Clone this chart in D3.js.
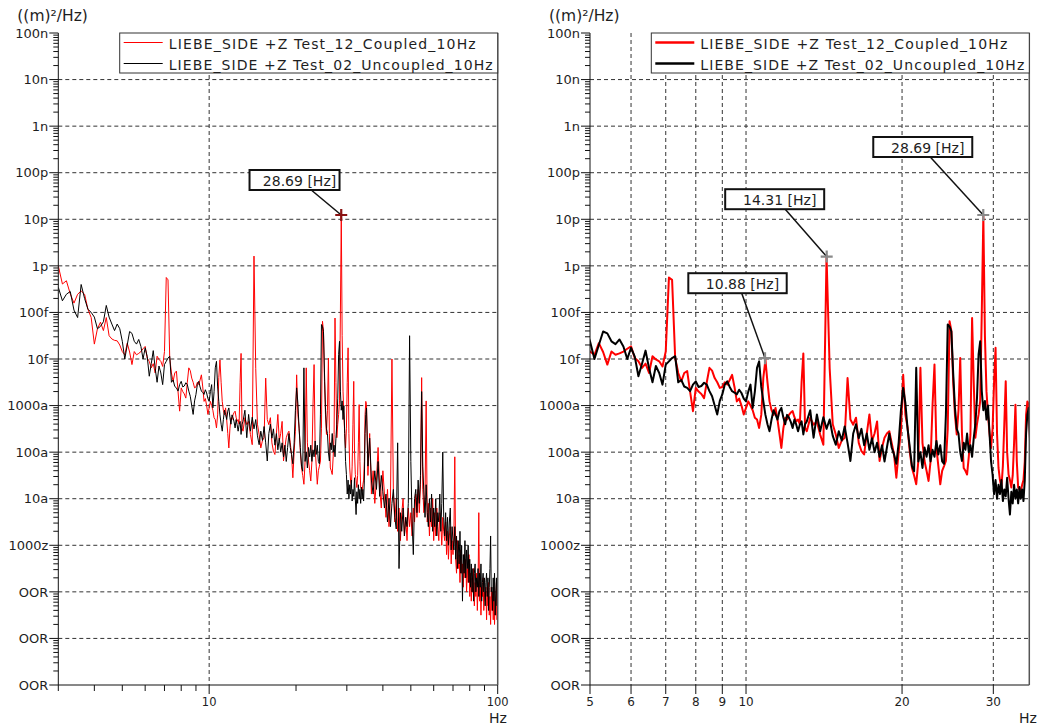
<!DOCTYPE html>
<html>
<head>
<meta charset="utf-8">
<script src="https://cdn.jsdelivr.net/npm/d3@7"></script>
<style>
  body { margin: 0; background: #fff; }
  svg { display: block; font-family: "DejaVu Sans", Verdana, sans-serif; }
</style>
</head>
<body>
<div id="chart"></div>
<script>
// spectrum bins: start frequency and spacing (Hz) of each stretch
const binStart = [3.0, 5.0, 13.1, 35.5];
const binStep = [0.1, 0.1, 0.2, 0.5];

// log10 of PSD in (m)^2/Hz
const coupled3to5 = [
  -12.0, -12.39, -12.32, -12.6, -12.8, -12.61, -12.54, -12.61, -12.93, -13.11,
  -13.68, -13.35, -13.21, -13.39, -13.11, -13.5, -13.57, -13.6, -13.61, -13.7
];
const uncoupled3to5 = [
  -12.46, -12.75, -12.61, -12.55, -12.95, -13.11, -12.4, -12.7, -12.93, -13.0,
  -13.1, -13.35, -13.3, -13.2, -12.85, -13.1, -13.25, -13.39, -13.25, -13.35
];

const coupled5to13 = [
  -13.84, -13.91, -13.66, -13.85, -14.12, -13.84, -13.91, -13.88, -13.84, -13.78,
  -13.73, -13.98, -14.05, -14.19, -14.1, -14.3, -13.94, -14.01, -14.05, -14.16,
  -13.84, -12.25, -12.3, -13.98, -14.3, -14.48, -14.3, -14.26, -14.7, -15.12,
  -14.62, -14.7, -14.75, -14.84, -14.5, -14.19, -14.25, -14.41, -14.5, -14.62,
  -14.6, -14.5, -14.55, -14.45, -14.34, -14.6, -14.91, -14.85, -15.0, -15.19,
  -15.05, -14.91, -15.0, -15.1, -15.26, -15.3, -15.48, -15.2, -14.4, -14.02,
  -14.5, -14.91, -15.1, -15.2, -15.05, -15.3, -15.6, -15.91, -15.5, -15.26,
  -15.3, -15.2, -15.15, -15.12, -15.25, -15.34, -15.3, -15.4, -14.5, -13.88,
  -15.48
];
const uncoupled5to13 = [
  -13.62, -14.0, -13.7, -13.41, -13.45, -13.62, -13.68, -13.58, -13.73, -14.0,
  -13.76, -13.95, -14.37, -14.1, -13.82, -14.2, -14.5, -14.15, -14.3, -14.55,
  -14.12, -14.05, -13.98, -13.94, -14.5, -14.45, -14.59, -14.62, -14.69, -14.55,
  -14.48, -14.6, -14.58, -14.51, -14.55, -14.69, -14.8, -15.0, -15.19, -14.9,
  -14.76, -14.55, -14.48, -14.6, -14.69, -14.72, -14.76, -14.66, -14.73, -14.85,
  -14.91, -14.7, -14.55, -15.05, -14.7, -14.19, -14.05, -14.6, -14.91, -15.2,
  -15.4, -15.55, -15.3, -15.1, -15.19, -15.3, -15.12, -15.05, -15.25, -15.4,
  -15.2, -15.26, -15.35, -15.48, -15.3, -15.41, -15.55, -15.41, -15.34, -15.62,
  -15.4
];

const coupled13to35 = [
  -15.55, -15.26, -15.41, -15.34, -15.62,
  -15.84, -11.79, -14.2, -15.4, -15.62,
  -15.91, -15.75, -15.69, -14.41, -15.3,
  -15.41, -15.26, -15.8, -15.98, -16.05,
  -15.6, -15.19, -15.76, -15.6, -15.34,
  -16.19, -15.9, -15.69, -15.6, -15.55,
  -15.8, -16.05, -16.55, -16.0, -15.55,
  -14.34, -15.2, -15.48, -16.0, -16.34,
  -16.5, -16.69, -16.2, -14.19, -15.8,
  -16.19, -16.4, -16.62, -16.2, -15.0,
  -14.12, -15.91, -16.3, -16.69, -16.4,
  -16.3, -16.19, -15.5, -13.19, -13.4,
  -14.48, -15.2, -15.62, -15.1, -13.98,
  -15.6, -16.34, -16.4, -16.48, -16.1,
  -15.62, -13.12, -14.5, -15.69, -15.4,
  -15.19, -14.9, -13.0, -10.92, -13.5,
  -14.69, -15.2, -15.6, -15.91, -15.5,
  -14.5, -13.76, -15.6, -16.34, -16.6,
  -16.76, -16.3, -15.4, -14.48, -16.0,
  -16.48, -16.6, -16.76, -16.5, -15.8,
  -14.98, -16.2, -16.76, -16.8, -16.84,
  -16.7, -16.6, -16.2, -15.2, -14.91,
  -14.98
];
const uncoupled13to35 = [
  -15.34, -15.1, -15.69, -15.19, -15.55,
  -15.25, -15.5, -15.3, -15.65, -15.84,
  -15.55, -15.75, -15.45, -15.8, -16.19,
  -15.6, -15.4, -15.7, -15.5, -15.85,
  -15.6, -15.95, -15.7, -16.0, -15.8,
  -16.1, -15.85, -16.2, -15.9, -15.6,
  -15.9, -16.05, -16.25, -15.8, -15.1,
  -14.62, -14.95, -15.5, -15.9, -16.3,
  -16.41, -14.19, -16.2, -16.0, -16.34,
  -15.9, -16.1, -15.85, -16.2, -15.95,
  -16.1, -15.76, -16.05, -15.85, -16.2,
  -16.25, -15.2, -13.26, -13.3, -13.41,
  -14.3, -15.05, -15.5, -15.6, -16.0,
  -16.19, -15.8, -15.95, -15.6, -16.0,
  -15.85, -16.1, -15.7, -15.4, -14.84,
  -13.9, -13.62, -14.69, -15.1, -14.9,
  -15.3, -15.0, -15.6, -16.2, -16.48,
  -16.9, -16.6, -17.0, -16.7, -16.9,
  -16.6, -17.05, -16.8, -16.95, -16.55,
  -17.0, -17.34, -16.85, -17.1, -16.7,
  -17.0, -16.8, -17.1, -16.75, -17.0,
  -16.8, -17.05, -16.6, -15.6, -15.19,
  -15.05
];

const coupled35to100 = [
  -16.5, -15.6, -16.9, -16.4, -17.1, -16.6, -15.9, -16.8, -17.2, -16.4,
  -16.9, -17.4, -16.8, -17.6, -17.0, -14.0, -16.9, -17.5, -17.0, -17.7,
  -17.2, -17.9, -17.3, -17.0, -17.8, -17.4, -17.9, -17.2, -17.6, -17.3,
  -17.8, -17.2, -17.5, -16.9, -17.4, -16.8, -17.3, -16.7, -14.4, -16.8,
  -17.3, -16.9, -14.9, -17.5, -17.1, -17.8, -17.2, -17.6, -17.0, -17.9,
  -17.3, -17.8, -17.2, -17.6, -17.9, -17.3, -17.5, -18.0, -17.4, -17.7,
  -17.9, -17.5, -18.2, -17.7, -18.3, -17.8, -17.6, -18.4, -17.9, -18.2,
  -17.8, -16.1, -18.3, -18.6, -17.9, -18.5, -18.2, -18.8, -18.1, -18.6,
  -18.4, -18.9, -18.2, -18.7, -18.3, -19.0, -18.5, -18.8, -18.2, -19.1,
  -18.6, -19.2, -18.7, -19.0, -18.5, -19.3, -18.8, -19.1, -18.6, -19.4,
  -18.9, -17.3, -19.2, -18.8, -19.5, -18.9, -19.1, -18.7, -19.4, -19.0,
  -19.2, -18.9, -19.6, -19.0, -19.3, -18.8, -19.5, -19.1, -19.7, -18.9,
  -19.4, -19.0, -19.6, -18.9, -19.7, -19.2, -19.5, -18.8, -19.6, -18.4
];
const uncoupled35to100 = [
  -16.3, -15.7, -16.6, -16.9, -16.4, -16.8, -16.2, -16.95, -16.5, -16.85,
  -17.2, -16.9, -17.5, -17.0, -17.6, -17.1, -16.8, -17.4, -17.65, -15.8,
  -18.5, -17.3, -17.7, -17.2, -17.8, -17.4, -17.6, -17.1, -13.5, -16.2,
  -17.5, -18.2, -17.0, -16.8, -17.3, -16.6, -17.1, -16.5, -14.7, -16.3,
  -16.9, -17.4, -16.7, -17.3, -17.6, -17.0, -17.5, -16.9, -17.7, -17.2,
  -17.6, -17.0, -17.8, -17.3, -17.5, -16.9, -17.7, -17.1, -16.0, -17.4,
  -17.8, -17.3, -17.9, -17.4, -18.0, -17.5, -17.2, -18.1, -17.6, -17.9,
  -18.1, -17.6, -18.3, -17.8, -18.5, -17.9, -18.4, -17.7, -18.6, -18.0,
  -19.2, -18.2, -18.6, -17.9, -18.7, -18.1, -18.5, -18.0, -18.8, -18.3,
  -18.9, -18.4, -19.0, -18.5, -19.2, -18.6, -18.4, -19.0, -18.7, -18.9,
  -18.5, -19.1, -18.6, -18.9, -18.4, -19.2, -18.8, -18.6, -19.0, -18.7,
  -19.3, -18.8, -18.6, -19.1, -18.7, -19.4, -18.9, -18.5, -17.8, -19.0,
  -18.9, -19.4, -18.7, -19.2, -18.6, -19.5, -19.0, -18.7, -19.3, -18.8
];

// axes
const yTickExps = [-7, -8, -9, -10, -11, -12, -13, -14, -15, -16, -17, -18, -19, -20, -21];
const yTickLabels = ["100n", "10n", "1n", "100p", "10p", "1p", "100f", "10f", "1000a", "100a", "10a", "1000z", "OOR", "OOR", "OOR"];
const leftXLabeled = [10, 100];
const leftXMinor = [3, 4, 5, 6, 7, 8, 9, 20, 30, 40, 50, 60, 70, 80, 90];
const rightXLabeled = [5, 6, 7, 8, 9, 10, 20, 30];

// marker annotations
const leftMarkerFreqs = [28.69];
const leftMarkerValues = [1.236e-11];
const rightMarkerFreqs = [28.69, 14.31, 10.88];
const rightMarkerValues = [1.236e-11, 1.58e-12, 1.04e-14];

const seriesNames = ["LIEBE_SIDE +Z Test_12_Coupled_10Hz", "LIEBE_SIDE +Z Test_02_Uncoupled_10Hz"];
const seriesColors = ["#ff0000", "#000000"];

// ---------------------------------------------------------------

const width = 1041, height = 727;
const plotTop = 33, plotBottom = 685;

function buildSeries(chunks) {
  const pts = [];
  chunks.forEach((vals, i) => {
    vals.forEach((e, k) => {
      pts.push({ f: +(binStart[i] + k * binStep[i]).toFixed(2), v: Math.pow(10, e) });
    });
  });
  return pts;
}

const coupled = buildSeries([coupled3to5, coupled5to13, coupled13to35, coupled35to100]);
const uncoupled = buildSeries([uncoupled3to5, uncoupled5to13, uncoupled13to35, uncoupled35to100]);

const svg = d3.select("#chart")
  .append("svg")
  .attr("width", width)
  .attr("height", height);

const yScale = d3.scaleLog().domain([1e-21, 1e-7]).range([plotBottom, plotTop]);

const panels = [
  {
    id: "left", left: 58.3, right: 497.7, domain: [3, 100], lineWidth: 1,
    labeled: leftXLabeled, minor: leftXMinor, gridX: [10],
    xLabelSize: 11.5, hzX: 498, markerColor: "#8b1212",
    markers: leftMarkerFreqs.map((f, i) => ({ f, v: leftMarkerValues[i] })),
    boxes: [{ dx: -30, dy: -25, left: -61.7, w: 90 }],
  },
  {
    id: "right", left: 590, right: 1029.3, domain: [5, 35.2], lineWidth: 2,
    labeled: rightXLabeled, minor: [], gridX: [6, 7, 8, 9, 10, 20, 30],
    xLabelSize: 12, hzX: 1028, markerColor: "#8a8a8a",
    markers: rightMarkerFreqs.map((f, i) => ({ f, v: rightMarkerValues[i] })),
    boxes: [
      { dx: -53, dy: -58, left: -57, w: 99 },
      { dx: -41.5, dy: -47.4, left: -60, w: 99 },
      { dx: -23.3, dy: -65, left: -53.4, w: 98.4 },
    ],
  },
];

panels.forEach((p) => {
  const xScale = d3.scaleLog().domain(p.domain).range([p.left, p.right]);
  const g = svg.append("g");

  const clipId = "clip-" + p.id;
  svg.append("clipPath").attr("id", clipId)
    .append("rect")
    .attr("x", p.left).attr("y", plotTop)
    .attr("width", p.right - p.left).attr("height", plotBottom - plotTop);

  // grid
  const gridExps = yTickExps.slice(1, -1);
  g.selectAll(".hgrid").data(gridExps).enter().append("line")
    .attr("x1", p.left).attr("x2", p.right)
    .attr("y1", (e) => yScale(Math.pow(10, e)))
    .attr("y2", (e) => yScale(Math.pow(10, e)))
    .attr("stroke", "#333").attr("stroke-dasharray", "4,3");
  g.selectAll(".vgrid").data(p.gridX).enter().append("line")
    .attr("x1", (d) => xScale(d)).attr("x2", (d) => xScale(d))
    .attr("y1", plotTop).attr("y2", plotBottom)
    .attr("stroke", "#333").attr("stroke-dasharray", "4,3");

  // data
  const line = d3.line()
    .x((d) => xScale(d.f))
    .y((d) => yScale(d.v));
  const dataG = g.append("g").attr("clip-path", `url(#${clipId})`);
  [coupled, uncoupled].forEach((s, i) => {
    dataG.append("path")
      .datum(s)
      .attr("d", line)
      .attr("fill", "none")
      .attr("stroke", seriesColors[i])
      .attr("stroke-width", p.lineWidth)
      .attr("stroke-linejoin", "round");
  });

  // frame
  g.append("line").attr("x1", p.left).attr("x2", p.left)
    .attr("y1", plotTop).attr("y2", plotBottom).attr("stroke", "#111");
  g.append("line").attr("x1", p.left).attr("x2", p.right)
    .attr("y1", plotBottom).attr("y2", plotBottom).attr("stroke", "#111");
  g.append("line").attr("x1", p.right).attr("x2", p.right)
    .attr("y1", plotTop).attr("y2", plotBottom).attr("stroke", "#555").attr("stroke-width", 1.5);

  // y ticks
  const minorY = [];
  for (let e = -21; e < -7; e++) {
    for (let m = 2; m <= 9; m++) minorY.push(m * Math.pow(10, e));
  }
  g.selectAll(".yminor").data(minorY).enter().append("line")
    .attr("x1", p.left - 5).attr("x2", p.left)
    .attr("y1", (d) => yScale(d)).attr("y2", (d) => yScale(d))
    .attr("stroke", "#111");
  g.selectAll(".ymajor").data(yTickExps).enter().append("line")
    .attr("x1", p.left - 9).attr("x2", p.left)
    .attr("y1", (e) => yScale(Math.pow(10, e))).attr("y2", (e) => yScale(Math.pow(10, e)))
    .attr("stroke", "#111");
  g.selectAll(".ylabel").data(yTickExps).enter().append("text")
    .attr("x", p.left - 10)
    .attr("y", (e) => yScale(Math.pow(10, e)))
    .attr("dy", "0.36em")
    .attr("text-anchor", "end")
    .attr("font-size", 13)
    .attr("fill", "#1e1e1e")
    .text((e, i) => yTickLabels[i]);

  // x ticks
  g.selectAll(".xminor").data(p.minor).enter().append("line")
    .attr("x1", (d) => xScale(d)).attr("x2", (d) => xScale(d))
    .attr("y1", plotBottom).attr("y2", plotBottom + 6)
    .attr("stroke", "#111");
  g.selectAll(".xmajor").data(p.labeled).enter().append("line")
    .attr("x1", (d) => xScale(d)).attr("x2", (d) => xScale(d))
    .attr("y1", plotBottom).attr("y2", plotBottom + 9)
    .attr("stroke", "#111");
  g.selectAll(".xlabel").data(p.labeled).enter().append("text")
    .attr("x", (d) => xScale(d))
    .attr("y", 706)
    .attr("text-anchor", "middle")
    .attr("font-size", p.xLabelSize)
    .attr("fill", "#1e1e1e")
    .text((d) => d);
  g.append("text")
    .attr("x", p.hzX).attr("y", 723)
    .attr("text-anchor", "middle")
    .attr("font-size", 14)
    .attr("fill", "#1e1e1e")
    .text("Hz");

  // unit title
  g.append("text")
    .attr("x", p.left - 41).attr("y", 21)
    .attr("font-size", 15.5)
    .attr("fill", "#1e1e1e")
    .text("((m)²/Hz)");

  // legend
  const lx = p.right - 378;
  const legend = g.append("g");
  legend.append("rect")
    .attr("x", lx).attr("y", plotTop)
    .attr("width", 378).attr("height", 40)
    .attr("fill", "#fff").attr("stroke", "#333");
  seriesNames.forEach((name, i) => {
    const ly = plotTop + 9.5 + i * 21;
    legend.append("line")
      .attr("x1", lx + 4).attr("x2", lx + 43)
      .attr("y1", ly).attr("y2", ly)
      .attr("stroke", seriesColors[i])
      .attr("stroke-width", p.lineWidth === 1 ? 1 : 2.5);
    legend.append("text")
      .attr("x", lx + 49).attr("y", ly + 6.5)
      .attr("font-size", 14)
      .attr("fill", "#1e1e1e")
      .attr("textLength", i === 0 ? 307 : 324)
      .attr("lengthAdjust", "spacing")
      .text(name);
  });

  // annotations
  p.markers.forEach((m, i) => {
    const mx = xScale(m.f), my = yScale(m.v);
    const b = p.boxes[i];
    const ax = mx + b.dx, ay = my + b.dy;
    const bx = ax + b.left, by = ay - 20;
    g.append("line")
      .attr("x1", mx).attr("y1", my).attr("x2", ax).attr("y2", ay)
      .attr("stroke", "#111").attr("stroke-width", 1.5);
    g.append("path")
      .attr("d", `M${mx - 6},${my}H${mx + 6}M${mx},${my - 6}V${my + 6}`)
      .attr("stroke", p.markerColor).attr("stroke-width", 2.2);
    g.append("rect")
      .attr("x", bx).attr("y", by)
      .attr("width", b.w).attr("height", 20)
      .attr("fill", "#fff").attr("stroke", "#111").attr("stroke-width", 2);
    g.append("text")
      .attr("x", bx + b.w / 2 + 5).attr("y", by + 15.5)
      .attr("text-anchor", "middle")
      .attr("font-size", 14)
      .attr("fill", "#1e1e1e")
      .text(`${m.f.toFixed(2)} [Hz]`);
  });
});
</script>
</body>
</html>
